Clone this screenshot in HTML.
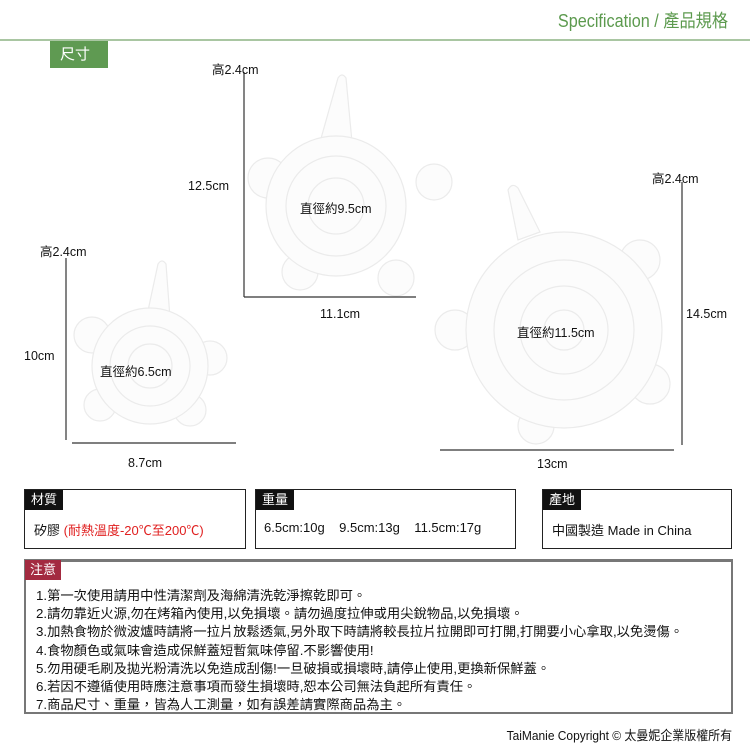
<!DOCTYPE html>
<html><head><meta charset="utf-8"><style>
body{margin:0;width:750px;height:750px;background:#fff;position:relative;overflow:hidden;font-family:"Liberation Sans","Noto Sans CJK TC",sans-serif;color:#111}
.a{position:absolute;white-space:nowrap}
.t{font-size:12.5px;transform-origin:0 0}
.hd{position:absolute;background:#111;color:#fff;font-size:13px;height:20px;line-height:20px;padding:0 6px}
.box{position:absolute;border:1.5px solid #222;box-sizing:border-box}
.n{position:absolute;left:36px;font-size:13.3px;line-height:16px;white-space:nowrap}
</style></head><body>
<div class="a" style="right:22px;top:7px;font-size:18px;color:#5c9a4e;transform:scaleX(.9);transform-origin:100% 0">Specification / 產品規格</div>
<div class="a" style="left:0;top:39px;width:750px;height:2px;background:#a9c6a2"></div>
<div class="a" style="left:50px;top:41px;width:58px;height:27px;background:#5f9a52;color:#fff;font-size:15px;line-height:27px;text-indent:10px">尺寸</div>

<svg class="a" style="left:0;top:0" width="750" height="480">
<g fill="#fcfcfc" stroke="#ebebeb" stroke-width="1.2">
<path d="M146 320 L158 264 Q162 258 166 264 L170 318 Z"/>
<circle cx="92" cy="335" r="18"/><circle cx="210" cy="358" r="17"/><circle cx="100" cy="405" r="16"/><circle cx="190" cy="410" r="16"/>
<circle cx="150" cy="366" r="58"/><circle cx="150" cy="366" r="40" fill="none"/><circle cx="150" cy="366" r="22" fill="none"/>
<path d="M320 142 L338 78 Q342 72 346 78 L352 142 Z"/>
<circle cx="268" cy="178" r="20"/><circle cx="434" cy="182" r="18"/><circle cx="300" cy="272" r="18"/><circle cx="396" cy="278" r="18"/>
<circle cx="336" cy="206" r="70"/><circle cx="336" cy="206" r="50" fill="none"/><circle cx="336" cy="206" r="28" fill="none"/>
<path d="M518 240 L508 190 Q512 182 518 188 L540 232 Z"/>
<circle cx="640" cy="260" r="20"/><circle cx="455" cy="330" r="20"/><circle cx="650" cy="384" r="20"/><circle cx="536" cy="426" r="18"/>
<circle cx="564" cy="330" r="98"/><circle cx="564" cy="330" r="70" fill="none"/><circle cx="564" cy="330" r="44" fill="none"/><circle cx="564" cy="330" r="20" fill="none"/>
</g>
<g stroke="#333" stroke-width="1.2">
<line x1="66" y1="258" x2="66" y2="440"/><line x1="72" y1="443" x2="236" y2="443"/>
<line x1="244" y1="72" x2="244" y2="297"/><line x1="244" y1="297" x2="416" y2="297"/>
<line x1="682" y1="182" x2="682" y2="445"/><line x1="440" y1="450" x2="674" y2="450"/>
</g>
</svg>
<div class="a t" style="left:40px;top:241px">高2.4cm</div>
<div class="a t" style="left:24px;top:349px">10cm</div>
<div class="a t" style="left:100px;top:361px">直徑約6.5cm</div>
<div class="a t" style="left:128px;top:456px">8.7cm</div>
<div class="a t" style="left:212px;top:59px">高2.4cm</div>
<div class="a t" style="left:188px;top:179px">12.5cm</div>
<div class="a t" style="left:300px;top:198px">直徑約9.5cm</div>
<div class="a t" style="left:320px;top:307px">11.1cm</div>
<div class="a t" style="left:652px;top:168px">高2.4cm</div>
<div class="a t" style="left:686px;top:307px">14.5cm</div>
<div class="a t" style="left:517px;top:322px">直徑約11.5cm</div>
<div class="a t" style="left:537px;top:457px">13cm</div>

<div class="box" style="left:24px;top:489px;width:222px;height:60px"></div>
<div class="hd" style="left:25px;top:490px">材質</div>
<div class="a" style="left:34px;top:520px;font-size:13px">矽膠 <span style="color:#e02020">(耐熱溫度-20℃至200℃)</span></div>
<div class="box" style="left:255px;top:489px;width:261px;height:60px"></div>
<div class="hd" style="left:256px;top:490px">重量</div>
<div class="a" style="left:264px;top:520px;font-size:13px">6.5cm:10g&nbsp;&nbsp;&nbsp; 9.5cm:13g&nbsp;&nbsp;&nbsp; 11.5cm:17g</div>
<div class="box" style="left:542px;top:489px;width:190px;height:60px"></div>
<div class="hd" style="left:543px;top:490px">產地</div>
<div class="a" style="left:552px;top:520px;font-size:13px">中國製造 Made in China</div>

<div class="box" style="left:24px;top:559px;width:709px;height:155px;border:2px solid #777;border-top-width:3px"></div>
<div class="hd" style="left:25px;top:560px;background:#a32a40;padding:0 5px">注意</div>
<div class="n" style="top:588px">1.第一次使用請用中性清潔劑及海綿清洗乾淨擦乾即可。</div>
<div class="n" style="top:606px">2.請勿靠近火源,勿在烤箱內使用,以免損壞。請勿過度拉伸或用尖銳物品,以免損壞。</div>
<div class="n" style="top:624px">3.加熱食物於微波爐時請將一拉片放鬆透氣,另外取下時請將較長拉片拉開即可打開,打開要小心拿取,以免燙傷。</div>
<div class="n" style="top:643px">4.食物顏色或氣味會造成保鮮蓋短暫氣味停留.不影響使用!</div>
<div class="n" style="top:661px">5.勿用硬毛刷及拋光粉清洗以免造成刮傷!一旦破損或損壞時,請停止使用,更換新保鮮蓋。</div>
<div class="n" style="top:679px">6.若因不遵循使用時應注意事項而發生損壞時,恕本公司無法負起所有責任。</div>
<div class="n" style="top:697px">7.商品尺寸、重量，皆為人工測量，如有誤差請實際商品為主。</div>
<div class="a" style="right:18px;top:725px;font-size:13px;transform:scaleX(.92);transform-origin:100% 0">TaiManie Copyright © 太曼妮企業版權所有</div>
</body></html>
